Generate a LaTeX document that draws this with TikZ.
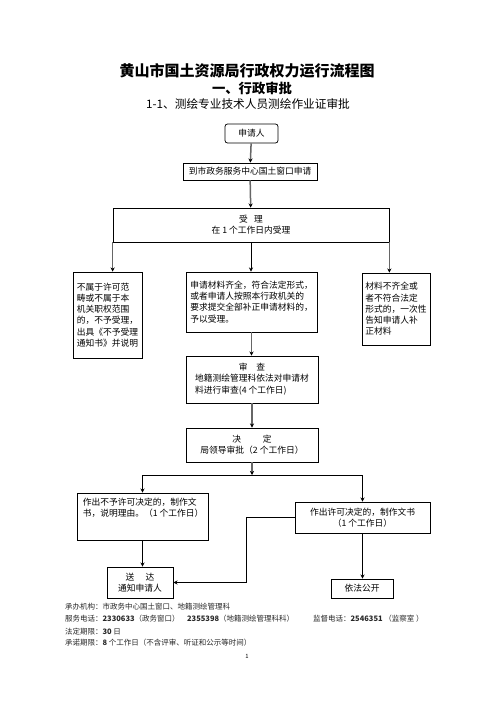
\documentclass[tikz,border=0pt]{standalone}
\usepackage{fontspec}
\setmainfont{Noto Sans CJK SC}
\usetikzlibrary{arrows.meta}

\tikzset{
  box/.style={draw, line width=0.9pt, inner sep=2pt, font=\fontsize{10.5}{13.5}\selectfont},
  mainarrow/.style={draw=black!60, line width=1.8pt, -{Stealth[length=5pt, width=5pt, color=black]}},
  thinarrow/.style={draw=black, line width=0.9pt, -{Stealth[length=5pt, width=5pt]}},
  thinline/.style={draw=black, line width=0.9pt},
  foot/.style={anchor=west, inner sep=0pt, font=\fontsize{9}{9}\selectfont, text=black!85},
}

\begin{document}
\begin{tikzpicture}[x=1.2pt, y=-1.2pt]
  % page (A4 at reference scale)
  \useasboundingbox (0,0) rectangle (496,702);

  % headings
  \node[font=\fontsize{18}{18}\selectfont\bfseries] (title) at (247,71) {黄山市国土资源局行政权力运行流程图};
  \node[font=\fontsize{16}{16}\selectfont\bfseries] (part) at (252,88) {一、行政审批};
  \node[font=\fontsize{14}{14}\selectfont] (item) at (248,104) {1-1、测绘专业技术人员测绘作业证审批};

  % boxes
  \node[box, rounded corners=3pt, minimum width=63.6pt, minimum height=22.8pt] (applicant) at (251.5,133.5) {申请人};
  \node[box, minimum width=160.8pt, minimum height=20.4pt] (window) at (250,171.5) {到市政务服务中心国土窗口申请};
  \node[box, align=center, minimum width=331.2pt, minimum height=40.8pt] (accept) at (251,225)
    {受\hspace{0.7em}理\\在 1 个工作日内受理};
  \node[box, align=left, minimum width=82.8pt, minimum height=103.2pt] (reject) at (107.5,315)
    {不属于许可范\\畴或不属于本\\机关职权范围\\的，不予受理，\\出具《不予受理\\通知书》并说明};
  \node[box, align=left, minimum width=157.2pt, minimum height=72pt] (complete) at (251.5,302)
    {申请材料齐全，符合法定形式，\\或者申请人按照本行政机关的\\要求提交全部补正申请材料的，\\予以受理。};
  \node[box, align=left, minimum width=81.6pt, minimum height=86.4pt] (incomplete) at (396,309)
    {材料不齐全或\\者不符合法定\\形式的，一次性\\告知申请人补\\正材料};
  \node[box, minimum width=158.4pt, minimum height=56.4pt] (review) at (252,379.5)
    {\begin{tabular}{@{}l@{}}\multicolumn{1}{@{}c@{}}{审\hspace{1em}查}\\地籍测绘管理科依法对申请材\\料进行审查(4 个工作日)\end{tabular}};
  \node[box, align=center, minimum width=158.4pt, minimum height=40.8pt] (decide) at (252,445)
    {决\hspace{2.5em}定\\局领导审批（2 个工作日）};
  \node[box, minimum width=157.2pt, minimum height=56.4pt] (deny) at (142.5,516.5) {};
  \node[anchor=north west, inner sep=0pt, align=left, font=\fontsize{10.5}{13.5}\selectfont]
    (denytext) at ([xshift=7.2pt, yshift=-6pt]deny.north west)
    {作出不予许可决定的，制作文\\书，说明理由。（1 个工作日）};
  \node[box, align=center, minimum width=162pt, minimum height=37.2pt] (grant) at (362.5,517.5)
    {作出许可决定的，制作文书\\（1 个工作日）};
  \node[box, align=center, minimum width=79.2pt, minimum height=37.2pt] (notify) at (140,582.5)
    {送\hspace{1.3em}达\\通知申请人};
  \node[box, minimum width=74.4pt, minimum height=22.8pt] (publish) at (362,588.5) {依法公开};

  % connectors
  \draw[mainarrow] (applicant) -- (window);
  \draw[mainarrow] (window) -- (accept);
  \draw[mainarrow] (accept.south west) -- (accept.south west |- reject.north);
  \draw[thinarrow] (accept.south) -- (accept.south |- complete.north);
  \draw[mainarrow] (accept.south east) -- (accept.south east |- incomplete.north);
  \draw[mainarrow] (complete.south) -- (complete.south |- review.north);
  \draw[mainarrow] (review) -- (decide);

  \coordinate (split) at (252,475);
  \coordinate (splitL) at (142.5,475);
  \coordinate (splitR) at (362.5,475);
  \draw[mainarrow] (decide) -- (split);
  \draw[thinline] (splitL) -- (splitR);
  \draw[thinarrow] (splitL) -- (deny);
  \draw[thinarrow] (splitR) -- (grant);
  \draw[thinarrow] (deny) -- (deny |- notify.north);
  \draw[thinarrow] (grant.south) -- (grant.south |- publish.north);
  \draw[thinarrow] (grant.west) -- ++(-48,0) |- (notify.east);

  % footer
  \node[foot] (organ) at (65,607) {承办机构：市政务中心国土窗口、地籍测绘管理科};
  \node[foot] (phone) at (65,619) {服务电话：\textbf{2330633}（政务窗口）};
  \node[foot] (phonetwo) at (187,619) {\textbf{2355398}（地籍测绘管理科科）};
  \node[foot] (supervise) at (313,619) {监督电话：\textbf{2546351} （监察室 ）};
  \node[foot] (legal) at (65,632) {法定期限：\textbf{30} 日};
  \node[foot] (promise) at (65,643) {承诺期限：\textbf{8} 个工作日（不含评审、听证和公示等时间）};
  \node[font=\fontsize{7}{7}\selectfont] (pageno) at (247,656) {1};
\end{tikzpicture}
\end{document}
